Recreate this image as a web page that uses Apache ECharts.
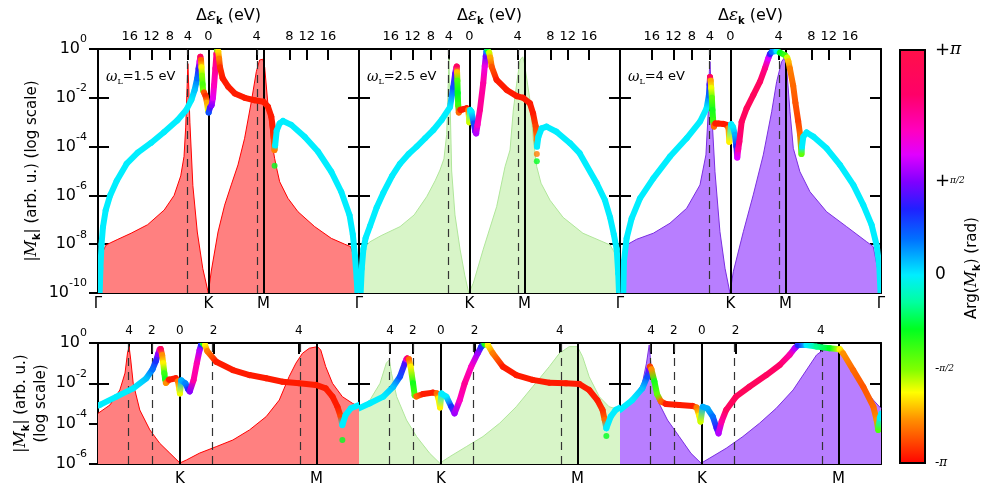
<!DOCTYPE html>
<html><head><meta charset="utf-8">
<script src="https://cdn.jsdelivr.net/npm/echarts@6/dist/echarts.min.js"></script>
<style>html,body{margin:0;padding:0;background:#fff}#c{width:990px;height:495px}</style>
</head><body><div id="c"></div>
<script>
// ================= DATA (k-path coordinate u: Γ=0, K=1, M=1.5, Γ=2.366; magnitudes as log10) =================
const topRange = [0, 2.366];
const bottomRange = [0.70, 1.656];
const topEnergyTicks = [[16,0.287],[12,0.485],[8,0.651],[4,0.815],[0,1.0],[4,1.437],[8,1.735],[12,1.892],[16,2.085]];
const bottomEnergyTicks = [[4,0.814],[2,0.897],[0,1.0],[2,1.123],[4,1.436]];
const topDashedEnergies = [4];
const bottomDashedEnergies = [2,4];
const pathLabelsTop = [[0,'Γ'],[1,'K'],[1.5,'M']];
const pathLabelsTopLast = [[0,'Γ'],[1,'K'],[1.5,'M'],[2.366,'Γ']];
const pathLabelsBottom = [[1,'K'],[1.5,'M']];
const omegaLabels = ['1.5 eV','2.5 eV','4 eV'];
const phaseTicks = [[3.76,'+π'],[1.5708,'+π/2'],[0,'0'],[-1.5708,'-π/2'],[-3.1416,'-π']];

// filled envelopes [u, log10]
const areaTop1 = [[0,-10],[0.02,-10],[0.03,-9.0],[0.045,-8.3],[0.07,-8.05],[0.11,-7.95],[0.18,-7.8],[0.30,-7.55],[0.45,-7.2],[0.60,-6.6],[0.69,-6.0],[0.75,-5.2],[0.78,-4.4],[0.795,-3.2],[0.805,-1.9],[0.815,-0.6],[0.823,-1.6],[0.833,-3.0],[0.86,-5.6],[0.90,-7.5],[0.95,-9.0],[1.0,-10],[1.027,-9.1],[1.088,-7.5],[1.148,-6.4],[1.208,-5.57],[1.269,-4.75],[1.329,-3.66],[1.39,-2.16],[1.435,-0.93],[1.465,-0.45],[1.48,-0.38],[1.495,-0.42],[1.511,-0.75],[1.541,-2.3],[1.571,-3.66],[1.601,-4.48],[1.62,-4.9],[1.647,-5.44],[1.722,-6.12],[1.813,-6.67],[1.964,-7.28],[2.115,-7.76],[2.236,-8.0],[2.29,-8.1],[2.32,-8.5],[2.345,-9.5],[2.355,-10],[2.366,-10]];
const areaTop2 = [[0,-10],[0.018,-10],[0.025,-8.6],[0.04,-8.15],[0.10,-7.9],[0.20,-7.65],[0.372,-7.28],[0.50,-6.8],[0.614,-6.05],[0.69,-5.4],[0.734,-4.96],[0.77,-4.5],[0.795,-3.5],[0.805,-2.0],[0.815,-0.4],[0.825,-2.0],[0.84,-5.0],[0.87,-6.8],[0.916,-8.2],[0.96,-9.3],[0.995,-10],[1.036,-9.6],[1.127,-8.2],[1.248,-6.46],[1.324,-4.82],[1.369,-4.14],[1.399,-2.5],[1.43,-1.4],[1.46,-0.45],[1.484,-0.32],[1.50,-0.6],[1.55,-2.1],[1.58,-3.7],[1.611,-4.82],[1.65,-5.5],[1.732,-6.2],[1.85,-6.9],[2.03,-7.55],[2.276,-8.03],[2.336,-8.5],[2.35,-10],[2.366,-10]];
const areaTop3 = [[0,-10],[0.025,-10],[0.032,-9.2],[0.045,-8.6],[0.06,-8.03],[0.15,-7.8],[0.302,-7.55],[0.453,-7.14],[0.604,-6.53],[0.725,-5.57],[0.779,-4.34],[0.80,-2.57],[0.81,-0.93],[0.816,-0.52],[0.822,-1.2],[0.831,-2.57],[0.861,-5.03],[0.906,-7.49],[0.952,-8.99],[0.997,-10],[1.027,-9.13],[1.118,-7.49],[1.208,-5.98],[1.299,-4.34],[1.375,-2.57],[1.42,-1.34],[1.465,-0.52],[1.486,-0.38],[1.50,-0.5],[1.511,-0.79],[1.541,-2.57],[1.571,-4.07],[1.631,-5.03],[1.722,-5.85],[1.873,-6.67],[2.054,-7.28],[2.236,-7.9],[2.296,-8.1],[2.341,-9.13],[2.356,-10],[2.366,-10]];
const areaBot1 = [[0.70,-3.49],[0.744,-3.07],[0.78,-2.33],[0.799,-1.49],[0.808,-0.5],[0.814,-0.18],[0.82,-0.84],[0.829,-2.0],[0.853,-3.32],[0.89,-4.31],[0.926,-4.97],[0.963,-5.46],[1.0,-5.95],[1.024,-5.8],[1.072,-5.46],[1.133,-5.14],[1.194,-4.81],[1.255,-4.31],[1.316,-3.65],[1.364,-2.83],[1.40,-1.67],[1.425,-1.0],[1.449,-0.51],[1.474,-0.26],[1.504,-0.18],[1.516,-0.35],[1.534,-1.17],[1.559,-2.0],[1.595,-2.66],[1.632,-2.99],[1.656,-3.16]];
const areaBot2 = [[0.70,-3.32],[0.74,-2.83],[0.777,-2.0],[0.80,-1.0],[0.811,-0.84],[0.819,-1.5],[0.838,-2.66],[0.874,-3.82],[0.911,-4.64],[0.959,-5.47],[0.996,-5.96],[1.032,-5.64],[1.093,-5.14],[1.154,-4.64],[1.215,-3.98],[1.276,-3.16],[1.336,-2.17],[1.397,-1.17],[1.434,-0.51],[1.47,-0.18],[1.50,-0.18],[1.519,-0.68],[1.543,-1.67],[1.58,-2.66],[1.616,-3.16],[1.656,-3.32]];
const areaBot3 = [[0.70,-3.32],[0.745,-2.83],[0.782,-2.0],[0.797,-1.0],[0.807,-0.1],[0.817,-1.67],[0.837,-2.83],[0.874,-3.82],[0.917,-4.64],[0.96,-5.47],[0.997,-5.96],[1.027,-5.72],[1.089,-5.22],[1.15,-4.64],[1.211,-3.98],[1.272,-3.24],[1.334,-2.33],[1.383,-1.34],[1.42,-0.59],[1.444,-0.35],[1.505,-0.31],[1.542,-1.0],[1.591,-2.17],[1.628,-2.83],[1.656,-3.24]];

// |M_k| curves [u, log10, phase(rad)]
const curveTop1 = [[0.015,-10,0],[0.022,-9.0,0],[0.032,-8.0,0],[0.045,-7.3,0],[0.07,-6.6,0],[0.11,-6.0,0],[0.17,-5.4,0],[0.26,-4.7,0],[0.36,-4.25,0],[0.48,-3.85,0],[0.60,-3.4,0],[0.72,-2.92,0],[0.80,-2.5,0],[0.846,-2.09,0],[0.876,-1.68,0.2],[0.90,-1.2,0.6],[0.912,-0.8,1.2],[0.921,-0.5,2.2],[0.928,-0.32,3.2],[0.934,-0.45,-2.6],[0.938,-0.75,-2.0],[0.943,-1.1,-1.6],[0.948,-1.45,-1.3],[0.953,-1.7,-1.5],[0.96,-1.78,-2.7],[0.975,-1.92,-2.9],[0.988,-2.2,-2.3],[0.997,-2.5,-1.9],[1.003,-2.6,0.8],[1.015,-2.4,1.3],[1.03,-2.3,1.6],[1.042,-2.0,2.1],[1.052,-1.5,2.4],[1.064,-0.8,2.7],[1.074,-0.2,2.9],[1.082,-0.05,-1.5],[1.09,-0.1,-2.1],[1.098,-0.4,-2.5],[1.106,-0.75,-2.9],[1.13,-1.2,-3.0],[1.18,-1.54,-3.0],[1.24,-1.82,-3.0],[1.33,-2.0,-3.0],[1.42,-2.1,-3.0],[1.50,-2.16,-3.0],[1.54,-2.36,-3.0],[1.571,-2.77,-3.0],[1.586,-3.25,-3.0],[1.595,-3.8,-2.8],[1.600,-4.14,-2.5],[1.606,-3.95,0],[1.62,-3.35,0],[1.647,-3.05,0],[1.677,-2.95,0],[1.752,-3.11,0],[1.873,-3.6,0],[1.994,-4.2,0],[2.115,-5.03,0],[2.205,-5.85,0],[2.28,-6.8,0],[2.31,-7.6,0],[2.33,-8.5,0],[2.345,-9.4,0],[2.352,-10,0]];
const curveTop2 = [[0.015,-10,0],[0.025,-9.0,0],[0.04,-8.2,0],[0.06,-7.75,0],[0.10,-7.25,0],[0.16,-6.5,0],[0.22,-5.9,0],[0.30,-5.2,0],[0.372,-4.7,0],[0.45,-4.3,0],[0.523,-4.0,0],[0.60,-3.65,0],[0.674,-3.32,0],[0.75,-2.9,0],[0.825,-2.38,0],[0.855,-1.55,0.8],[0.872,-1.0,1.4],[0.881,-0.78,2.3],[0.886,-0.72,3.2],[0.889,-0.95,-2.2],[0.892,-1.3,-1.3],[0.895,-1.8,-0.9],[0.899,-2.3,-1.2],[0.905,-2.6,-2.6],[0.92,-2.5,-3.0],[0.943,-2.47,-3.0],[0.976,-2.43,-3.0],[0.99,-2.5,-2.5],[0.997,-2.8,-2.0],[1.0,-3.0,-1.8],[1.008,-2.5,0],[1.02,-2.57,0],[1.04,-3.05,0.8],[1.055,-3.4,1.5],[1.062,-3.46,1.8],[1.075,-3.1,2.4],[1.096,-2.5,2.7],[1.126,-1.4,2.6],[1.14,-0.7,2.2],[1.149,-0.3,1.5],[1.156,-0.1,0.5],[1.166,-0.05,-0.8],[1.18,-0.15,-1.8],[1.19,-0.35,-2.3],[1.203,-0.73,-2.7],[1.248,-1.27,-3.0],[1.339,-1.68,-3.0],[1.43,-1.93,-3.0],[1.488,-2.0,-3.0],[1.55,-2.23,-3.0],[1.578,-2.64,-3.0],[1.602,-3.18,-2.8],[1.611,-3.73,-2.5],[1.614,-4.0,0],[1.626,-3.6,0],[1.656,-3.25,0],[1.70,-3.18,0],[1.79,-3.39,0],[1.913,-3.86,0],[2.0,-4.27,0],[2.155,-5.5,0],[2.23,-6.2,0],[2.276,-6.9,0],[2.31,-7.6,0],[2.336,-8.2,0],[2.35,-9.2,0],[2.357,-10,0]];
const curveTop3 = [[0.03,-10,0],[0.036,-8.7,0],[0.06,-7.76,0],[0.106,-6.94,0],[0.181,-6.12,0],[0.302,-5.3,0],[0.453,-4.41,0],[0.604,-3.66,0],[0.725,-2.98,0],[0.785,-2.43,0],[0.806,-1.9,0.6],[0.812,-1.45,1.2],[0.816,-1.15,3.2],[0.822,-1.3,-2.3],[0.827,-1.6,-1.9],[0.833,-2.0,-1.4],[0.838,-2.5,-1.0],[0.845,-2.95,-1.2],[0.852,-3.18,-2.6],[0.865,-3.05,-3.0],[0.891,-3.05,-3.0],[0.937,-3.07,-3.0],[0.967,-3.11,-3.0],[0.984,-3.25,-2.4],[0.991,-3.8,-2.0],[1.008,-3.08,0],[1.025,-3.2,0],[1.042,-3.52,0.3],[1.055,-4.0,1.0],[1.063,-4.45,2.0],[1.072,-4.1,2.6],[1.082,-3.8,2.9],[1.103,-2.98,3.2],[1.148,-2.43,3.3],[1.208,-1.89,3.3],[1.269,-1.34,3.2],[1.314,-0.79,2.8],[1.344,-0.38,2.0],[1.36,-0.2,1.2],[1.375,-0.12,0.6],[1.42,-0.08,0],[1.45,-0.15,-0.9],[1.495,-0.25,-1.2],[1.515,-0.35,-1.8],[1.526,-0.5,-2.2],[1.54,-0.8,-2.5],[1.57,-1.5,-2.6],[1.59,-2.2,-2.7],[1.615,-2.95,-2.8],[1.632,-3.5,-2.6],[1.645,-4.3,-1.4],[1.65,-4.0,0],[1.662,-3.59,0],[1.692,-3.42,0],[1.752,-3.59,0],[1.873,-4.07,0],[1.994,-4.75,0],[2.115,-5.57,0],[2.205,-6.39,0],[2.281,-7.21,0],[2.326,-8.03,0],[2.35,-8.85,0],[2.362,-10,0]];
const curveBot1 = [[0.70,-3.1,0],[0.707,-3.07,0],[0.768,-2.66,0],[0.829,-2.25,0],[0.877,-1.75,0.2],[0.9,-1.3,0.6],[0.912,-0.9,1.0],[0.92,-0.55,1.6],[0.926,-0.32,2.6],[0.93,-0.3,3.3],[0.935,-0.6,-2.4],[0.939,-1.0,-2.0],[0.943,-1.5,-1.2],[0.946,-1.8,-1.0],[0.949,-1.98,-2.4],[0.96,-1.82,-3.0],[0.985,-1.75,-3.0],[0.993,-1.9,-2.5],[0.998,-2.3,-2.0],[1.0,-2.5,-1.9],[1.005,-1.85,0.3],[1.02,-2.0,0.5],[1.03,-2.3,1.0],[1.036,-2.4,1.6],[1.05,-1.85,2.6],[1.062,-1.0,2.5],[1.072,-0.35,1.8],[1.078,-0.08,1.0],[1.085,-0.03,-1.0],[1.092,-0.1,-2.0],[1.10,-0.4,-2.5],[1.133,-0.93,-3.0],[1.194,-1.34,-3.0],[1.255,-1.59,-3.0],[1.316,-1.75,-3.0],[1.376,-1.92,-3.0],[1.437,-2.0,-3.0],[1.498,-2.08,-3.0],[1.534,-2.25,-3.0],[1.559,-2.66,-3.0],[1.577,-3.16,-3.0],[1.589,-3.65,-2.8],[1.595,-4.07,0],[1.607,-3.57,0],[1.626,-3.24,0],[1.656,-3.07,0]];
const curveBot2 = [[0.70,-3.24,0],[0.74,-2.99,0],[0.789,-2.66,0],[0.825,-2.17,0.2],[0.85,-1.67,0.8],[0.868,-1.0,1.3],[0.874,-0.8,2.2],[0.877,-0.76,3.1],[0.883,-0.8,-2.6],[0.889,-1.17,-2.0],[0.898,-2.0,-1.0],[0.904,-2.6,-1.3],[0.91,-2.65,-2.6],[0.935,-2.53,-3.0],[0.971,-2.46,-3.0],[0.985,-2.5,-2.6],[0.991,-2.75,-2.0],[0.997,-3.2,-2.0],[1.002,-2.5,0],[1.02,-2.66,0],[1.038,-3.16,1.0],[1.05,-3.49,1.7],[1.069,-2.83,2.4],[1.087,-2.0,2.7],[1.111,-1.17,2.4],[1.135,-0.51,1.7],[1.148,-0.18,1.0],[1.16,-0.05,-1.0],[1.172,-0.1,-2.0],[1.19,-0.51,-2.5],[1.227,-1.17,-3.0],[1.276,-1.59,-3.0],[1.336,-1.83,-3.0],[1.397,-1.97,-3.0],[1.458,-2.0,-3.0],[1.507,-2.03,-3.0],[1.543,-2.33,-3.0],[1.573,-2.83,-3.0],[1.592,-3.32,-2.9],[1.60,-3.82,-2.6],[1.606,-4.23,0],[1.622,-3.65,0],[1.64,-3.32,0],[1.656,-3.2,0]];
const curveBot3 = [[0.70,-3.32,0],[0.745,-2.83,0],[0.782,-2.25,0.2],[0.80,-1.67,0.8],[0.807,-1.3,1.5],[0.81,-1.17,-2.8],[0.815,-1.3,-2.4],[0.826,-1.9,-1.0],[0.836,-2.55,-1.4],[0.85,-2.9,-2.6],[0.868,-3.02,-3.0],[0.917,-3.07,-3.0],[0.966,-3.12,-3.0],[0.981,-3.2,-2.5],[0.99,-3.6,-2.0],[0.995,-3.9,-1.8],[1.003,-3.16,0.3],[1.02,-3.25,0.3],[1.04,-3.65,0.6],[1.054,-4.23,1.2],[1.061,-4.48,1.8],[1.072,-3.9,2.6],[1.089,-3.32,3.2],[1.125,-2.66,3.3],[1.174,-2.17,3.3],[1.236,-1.59,3.2],[1.285,-1.09,3.0],[1.321,-0.59,2.6],[1.34,-0.26,1.8],[1.352,-0.1,1.0],[1.383,-0.1,0],[1.42,-0.18,-0.5],[1.468,-0.26,-0.9],[1.505,-0.31,-2.0],[1.517,-0.51,-2.4],[1.554,-1.34,-2.6],[1.591,-2.17,-2.7],[1.628,-3.16,-2.6],[1.64,-3.82,-2.4],[1.646,-4.31,-1.3],[1.652,-3.7,0],[1.657,-3.5,0]];
// isolated points
const isoTop1 = [[1.601,-4.78,-0.9]];
const isoTop2 = [[1.612,-4.3,-2.5],[1.612,-4.6,-0.9]];
const isoTop3 = [];
const isoBot1 = [[1.595,-4.81,-0.9]];
const isoBot2 = [[1.606,-4.61,-0.9]];
const isoBot3 = [];

// phase colour map [phase, colour]
const phaseColormap = [[-3.1416,'#ff0000'],[-2.4,'#ff9000'],[-1.95,'#ffff00'],[-1.57,'#80ff00'],[-0.9,'#00ff20'],[-0.45,'#00ffa0'],[0,'#00eeff'],[0.6,'#0070ff'],[1.1,'#2020ff'],[1.55,'#8000ff'],[2.0,'#e000ff'],[2.4,'#ff00c0'],[3.0,'#ff0068'],[3.76,'#ff1048']];
const cbMin = -3.1416, cbMax = 3.76;

// ================= helpers =================
const FONT = 'DejaVu Sans', SERIF = 'DejaVu Serif';
function hex2rgb(h){return [parseInt(h.substr(1,2),16),parseInt(h.substr(3,2),16),parseInt(h.substr(5,2),16)];}
function phaseColor(p){
  const m = phaseColormap;
  if (p <= m[0][0]) return m[0][1];
  for (let i=0;i<m.length-1;i++){
    if (p <= m[i+1][0]){
      const t=(p-m[i][0])/(m[i+1][0]-m[i][0]);
      const a=hex2rgb(m[i][1]), b=hex2rgb(m[i+1][1]);
      return 'rgb('+a.map((v,k)=>Math.round(v+(b[k]-v)*t)).join(',')+')';
    }
  }
  return m[m.length-1][1];
}
const toVal = e => Math.pow(10, e);

const panels = [
  {row:0,col:0,area:areaTop1,curve:curveTop1,iso:isoTop1},
  {row:0,col:1,area:areaTop2,curve:curveTop2,iso:isoTop2},
  {row:0,col:2,area:areaTop3,curve:curveTop3,iso:isoTop3},
  {row:1,col:0,area:areaBot1,curve:curveBot1,iso:isoBot1},
  {row:1,col:1,area:areaBot2,curve:curveBot2,iso:isoBot2},
  {row:1,col:2,area:areaBot3,curve:curveBot3,iso:isoBot3}
];
const fillColors = ['#ff8080','#d8f5c8','#b87eff'];
const edgeColors = ['#ff0000','#b0e69a','#7a2ee0'];
const colLeft = [98,359,620], W = 261;
const rowCfg = [
  {top:49,h:244,min:1e-10,range:topRange,eTicks:topEnergyTicks,dashE:topDashedEnergies},
  {top:343,h:121,min:1e-6,range:bottomRange,eTicks:bottomEnergyTicks,dashE:bottomDashedEnergies}
];

const yRich = {
  b:{fontSize:16,fontFamily:FONT,color:'#000',lineHeight:30,verticalAlign:'middle'},
  s:{fontSize:11,fontFamily:FONT,color:'#000',lineHeight:11,verticalAlign:'top'}
};
const nameRich = {
  t:{fontSize:15,fontFamily:FONT,color:'#000',lineHeight:20,verticalAlign:'middle'},
  m:{fontSize:16,fontFamily:SERIF,fontStyle:'italic',color:'#000',lineHeight:20,verticalAlign:'middle'},
  k:{fontSize:10,fontFamily:FONT,fontWeight:'bold',color:'#000',lineHeight:9,verticalAlign:'bottom'}
};
function yFmt(v){ const e=Math.round(Math.log10(v)); return '{b|10}{s|'+e+'}'; }

const grids=[], xAxes=[], yAxes=[], series=[], graphics=[];
const axisLineStyle = {show:true,onZero:false,lineStyle:{color:'#000',width:2}};

panels.forEach((p,g)=>{
  const rc = rowCfg[p.row];
  grids.push({left:colLeft[p.col], top:rc.top, width:W, height:rc.h, containLabel:false});
  const pathLabels = p.row===0 ? (p.col===2 ? pathLabelsTopLast : pathLabelsTop) : pathLabelsBottom;
  // bottom x axis (k-path labels)
  xAxes.push({gridIndex:g,type:'value',min:rc.range[0],max:rc.range[1],position:'bottom',
    axisLine:axisLineStyle,axisTick:{show:false},splitLine:{show:false},
    axisLabel:{customValues:pathLabels.map(l=>l[0]),
      formatter:v=>{const f=pathLabels.find(l=>Math.abs(l[0]-v)<1e-6);return f?f[1]:'';},
      fontSize:15,fontFamily:FONT,color:'#000',margin:p.row===0?4:8}});
  // top x axis (energy)
  const et = rc.eTicks;
  xAxes.push({gridIndex:g,type:'value',min:rc.range[0],max:rc.range[1],position:'top',
    axisLine:axisLineStyle,splitLine:{show:false},
    axisTick:{show:true,inside:true,length:11,customValues:et.map(t=>t[1]),lineStyle:{color:'#000',width:2}},
    axisLabel:{customValues:et.map(t=>t[1]),
      formatter:v=>{const f=et.find(t=>Math.abs(t[1]-v)<1e-6);return f?String(f[0]):'';},
      fontSize:p.row===0?13:12,fontFamily:FONT,color:'#000',margin:6},
    name:p.row===0?'{d|Δ}{e|ε}{k|k}{t| (eV)}':'',nameLocation:'middle',nameGap:23,
    nameTextStyle:{rich:{
      d:{fontSize:16,fontFamily:FONT,color:'#000',lineHeight:20,verticalAlign:'middle'},
      e:{fontSize:17,fontFamily:SERIF,fontStyle:'italic',color:'#000',lineHeight:20,verticalAlign:'middle'},
      k:{fontSize:10,fontFamily:FONT,fontWeight:'bold',color:'#000',lineHeight:9,verticalAlign:'bottom'},
      t:{fontSize:16,fontFamily:FONT,color:'#000',lineHeight:20,verticalAlign:'middle'}}}});
  // y axes (inside ticks both sides)
  ['left','right'].forEach(pos=>{
    yAxes.push({gridIndex:g,type:'log',logBase:100,min:rc.min,max:1,position:pos,
      axisLine:axisLineStyle,splitLine:{show:false},minorTick:{show:false},
      axisTick:{show:true,inside:true,length:11,lineStyle:{color:'#000',width:2}},
      axisLabel:{show:false}});
  });
});

// extra label axes on first column
panels.forEach((p,g)=>{
  if (p.col!==0) return;
  const rc = rowCfg[p.row];
  yAxes.push({gridIndex:g,type:'log',logBase:100,min:rc.min,max:1,position:'left',
    axisLine:{show:false,onZero:false},splitLine:{show:false},
    axisTick:{show:true,inside:false,length:9,lineStyle:{color:'#000',width:2}},
    axisLabel:{show:true,margin:11,formatter:yFmt,rich:yRich},
    name: p.row===0 ? '{t||}{m|M}{k|k}{t|| (arb. u.) (log scale)}' : '{t||}{m|M}{k|k}{t|| (arb. u.)}\n{t|(log scale)}',
    nameLocation:'middle', nameGap: p.row===0 ? 56 : 47,
    nameTextStyle:{rich:nameRich, lineHeight:17}});
});

// series
panels.forEach((p,g)=>{
  const rc = rowCfg[p.row];
  const mlData = [];
  rc.eTicks.forEach(t=>{
    if (t[0]===0) mlData.push({xAxis:t[1],lineStyle:{type:'solid',width:2,color:'#000'}});
    else if (rc.dashE.indexOf(t[0])>=0) mlData.push({xAxis:t[1],lineStyle:{type:[8,6],width:1.2,color:'#333'}});
  });
  mlData.push({xAxis:1.5,lineStyle:{type:'solid',width:2,color:'#000'}});
  series.push({type:'line',xAxisIndex:2*g,yAxisIndex:2*g,data:p.area.map(a=>[a[0],toVal(a[1])]),
    showSymbol:false,symbol:'none',smooth:false,z:1,
    lineStyle:{color:edgeColors[p.col],width:1},
    areaStyle:{color:fillColors[p.col],opacity:1,origin:'start'},
    markLine:{silent:true,symbol:['none','none'],label:{show:false},animation:false,data:mlData}});
  const src = p.curve;
  series.push({type:'custom',xAxisIndex:2*g,yAxisIndex:2*g,z:5,
    data:src.map(c=>[c[0],toVal(c[1]),c[2]]),encode:{x:0,y:1},
    renderItem:function(params,api){
      const i=params.dataIndex;
      if (i>=src.length-1) return null;
      const a=api.coord([api.value(0),api.value(1)]);
      const n=src[i+1];
      const b=api.coord([n[0],toVal(n[1])]);
      const c1=phaseColor(api.value(2)), c2=phaseColor(n[2]);
      const cs=params.coordSys;
      let stroke=c1;
      if (Math.abs(a[0]-b[0])+Math.abs(a[1]-b[1])>0.5)
        stroke=new echarts.graphic.LinearGradient(a[0],a[1],b[0],b[1],[{offset:0,color:c1},{offset:1,color:c2}],true);
      return {type:'line',shape:{x1:a[0],y1:a[1],x2:b[0],y2:b[1]},
        style:{stroke:stroke,lineWidth:6,lineCap:'round'},
        clipPath:{type:'rect',shape:{x:cs.x,y:cs.y,width:cs.width,height:cs.height}}};
    }});
  if (p.iso.length){
    series.push({type:'scatter',xAxisIndex:2*g,yAxisIndex:2*g,z:6,symbolSize:6,
      data:p.iso.map(c=>[c[0],toVal(c[1]),c[2]]),
      itemStyle:{color:prm=>phaseColor(prm.value[2])}});
  }
  // omega label
  graphics.push({type:'text',x:colLeft[p.col]+8,y:77,z:20,
    style:{text:'{w|ω}{l|L}{t|='+omegaLabels[p.col]+'}',verticalAlign:'middle',
      rich:{w:{fontSize:14,fontFamily:SERIF,fontStyle:'italic',fill:'#000',lineHeight:18,verticalAlign:'middle'},
        l:{fontSize:8,fontFamily:SERIF,fill:'#000',lineHeight:8,verticalAlign:'bottom'},
        t:{fontSize:13,fontFamily:FONT,fill:'#000',lineHeight:18,verticalAlign:'middle'}}}});
  if (p.row===1) graphics.pop();
});

// colour bar
const cbG = grids.length;
grids.push({left:900,top:50,width:25,height:413});
xAxes.push({gridIndex:cbG,type:'value',min:0,max:1,show:false});
const cbY = yAxes.length;
yAxes.push({gridIndex:cbG,type:'value',min:cbMin,max:cbMax,position:'right',
  axisLine:{show:false},splitLine:{show:false},
  axisTick:{show:true,inside:false,length:8,customValues:phaseTicks.slice(1,4).map(t=>t[0]),lineStyle:{color:'#000',width:2}},
  axisLabel:{customValues:phaseTicks.map(t=>t[0]),margin:10,
    formatter:v=>{
      const f=phaseTicks.find(t=>Math.abs(t[0]-v)<1e-3); if(!f) return '';
      const s=f[1];
      if (s==='+π') return '{pl|+}{pi|π}';
      if (s==='+π/2') return '{pl|+}{fr|π/2}';
      if (s==='-π/2') return '{sm|-}{fr|π/2}';
      if (s==='-π') return '{sm|-}{pis|π}';
      return '{z|'+s+'}';
    },
    rich:{pl:{fontSize:18,fontFamily:FONT,color:'#000'},pi:{fontSize:17,fontFamily:SERIF,fontStyle:'italic',color:'#000'},
      fr:{fontSize:9,fontFamily:SERIF,fontStyle:'italic',color:'#000'},z:{fontSize:17,fontFamily:FONT,color:'#000'},
      sm:{fontSize:12,fontFamily:FONT,color:'#000'},pis:{fontSize:12,fontFamily:SERIF,fontStyle:'italic',color:'#000'}}}});
yAxes.push({gridIndex:cbG,type:'value',min:cbMin,max:cbMax,position:'right',
  axisLine:{show:false},splitLine:{show:false},axisLabel:{show:false},
  axisTick:{show:true,inside:true,length:10,customValues:phaseTicks.slice(1,4).map(t=>t[0]),lineStyle:{color:'#000',width:2}}});
series.push({type:'custom',xAxisIndex:xAxes.length-1,yAxisIndex:cbY,z:1,data:[[0]],
  renderItem:function(params,api){
    const a=api.coord([0,cbMax]), b=api.coord([1,cbMin]);
    const stops=phaseColormap.map(s=>({offset:(cbMax-s[0])/(cbMax-cbMin),color:s[1]})).sort((x,y)=>x.offset-y.offset);
    return {type:'rect',shape:{x:a[0],y:a[1],width:b[0]-a[0],height:b[1]-a[1]},
      style:{fill:new echarts.graphic.LinearGradient(0,0,0,1,stops),stroke:'#000',lineWidth:2}};
  }});
graphics.push({type:'text',x:972,y:268,rotation:Math.PI/2,z:20,
  style:{text:'{t|Arg(}{m|M}{k|k}{t|) (rad)}',align:'center',verticalAlign:'middle',
    rich:{t:{fontSize:15,fontFamily:FONT,fill:'#000',lineHeight:20,verticalAlign:'middle'},
      m:{fontSize:16,fontFamily:SERIF,fontStyle:'italic',fill:'#000',lineHeight:20,verticalAlign:'middle'},
      k:{fontSize:10,fontFamily:FONT,fontWeight:'bold',fill:'#000',lineHeight:9,verticalAlign:'bottom'}}}});

const chart = echarts.init(document.getElementById('c'),null,{renderer:'canvas'});
chart.setOption({animation:false,backgroundColor:'#fff',grid:grids,xAxis:xAxes,yAxis:yAxes,series:series,graphic:graphics});
</script></body></html>
